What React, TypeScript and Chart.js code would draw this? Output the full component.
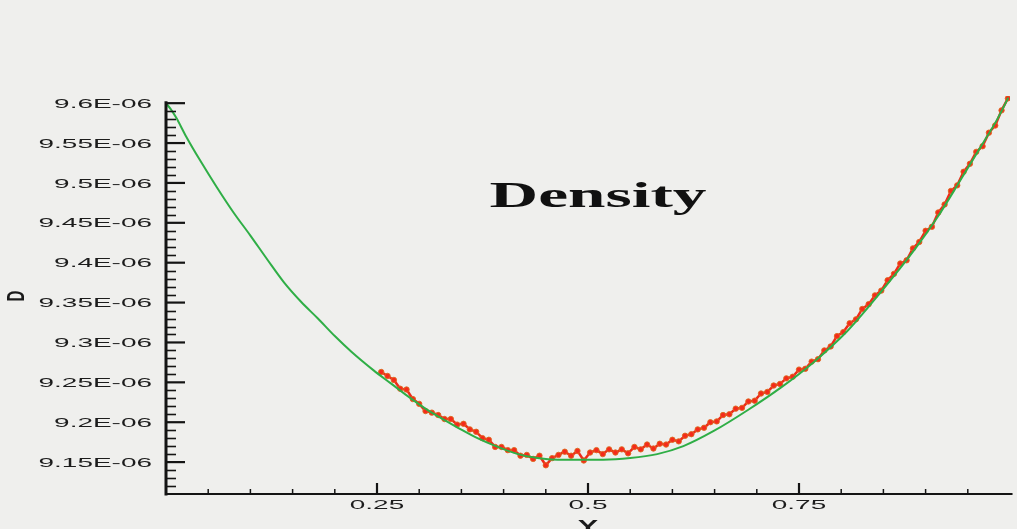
import React, { useEffect, useRef } from "react";
import { Chart, registerables } from "chart.js";

Chart.register(...registerables);

// Green curve (continuum solution), x in [0,1], density in units of 1E-06
const greenX = [0.0, 0.006, 0.012, 0.024, 0.04, 0.06, 0.08, 0.1, 0.12, 0.14, 0.16, 0.18, 0.2, 0.22, 0.246, 0.266, 0.286, 0.306, 0.326, 0.346, 0.369, 0.393, 0.417, 0.44, 0.464, 0.488, 0.518, 0.55, 0.582, 0.613, 0.649, 0.689, 0.728, 0.767, 0.807, 0.846, 0.888, 0.914, 0.941, 0.964, 0.985, 0.998];
const greenY = [9.6, 9.592, 9.582, 9.558, 9.529, 9.495, 9.463, 9.434, 9.404, 9.375, 9.351, 9.33, 9.308, 9.288, 9.265, 9.249, 9.233, 9.218, 9.205, 9.193, 9.18, 9.169, 9.16, 9.155, 9.153, 9.153, 9.153, 9.155, 9.16, 9.17, 9.189, 9.215, 9.243, 9.275, 9.314, 9.362, 9.418, 9.457, 9.503, 9.543, 9.58, 9.607];

// Red noisy series (particle simulation)
const redX = [0.255, 0.2625, 0.27, 0.2775, 0.285, 0.2925, 0.3, 0.3075, 0.315, 0.3225, 0.33, 0.3375, 0.345, 0.3525, 0.36, 0.3675, 0.375, 0.3825, 0.39, 0.3975, 0.405, 0.4125, 0.42, 0.4275, 0.435, 0.4425, 0.45, 0.4575, 0.465, 0.4725, 0.48, 0.4875, 0.495, 0.5025, 0.51, 0.5175, 0.525, 0.5325, 0.54, 0.5475, 0.555, 0.5625, 0.57, 0.5775, 0.585, 0.5925, 0.6, 0.6075, 0.615, 0.6225, 0.63, 0.6375, 0.645, 0.6525, 0.66, 0.6675, 0.675, 0.6825, 0.69, 0.6975, 0.705, 0.7125, 0.72, 0.7275, 0.735, 0.7425, 0.75, 0.7575, 0.765, 0.7725, 0.78, 0.7875, 0.795, 0.8025, 0.81, 0.8175, 0.825, 0.8325, 0.84, 0.8475, 0.855, 0.8625, 0.87, 0.8775, 0.885, 0.8925, 0.9, 0.9075, 0.915, 0.9225, 0.93, 0.9375, 0.945, 0.9525, 0.96, 0.9675, 0.975, 0.9825, 0.99, 0.9975];
const redY = [9.263, 9.258, 9.253, 9.242, 9.241, 9.229, 9.223, 9.214, 9.212, 9.209, 9.204, 9.204, 9.197, 9.198, 9.191, 9.188, 9.18, 9.178, 9.169, 9.169, 9.165, 9.165, 9.158, 9.159, 9.154, 9.158, 9.146, 9.155, 9.159, 9.163, 9.158, 9.164, 9.152, 9.162, 9.165, 9.16, 9.166, 9.162, 9.166, 9.161, 9.169, 9.166, 9.172, 9.167, 9.173, 9.172, 9.178, 9.176, 9.183, 9.185, 9.191, 9.193, 9.2, 9.201, 9.209, 9.21, 9.217, 9.218, 9.226, 9.227, 9.236, 9.238, 9.246, 9.248, 9.255, 9.257, 9.266, 9.267, 9.276, 9.279, 9.29, 9.295, 9.308, 9.313, 9.324, 9.329, 9.342, 9.348, 9.359, 9.365, 9.378, 9.386, 9.399, 9.403, 9.418, 9.426, 9.44, 9.445, 9.463, 9.473, 9.49, 9.497, 9.514, 9.524, 9.539, 9.546, 9.563, 9.572, 9.591, 9.606];

const yTickValues = [9.15, 9.2, 9.25, 9.3, 9.35, 9.4, 9.45, 9.5, 9.55, 9.6];
const yTickLabels = ["9.15E-06", "9.2E-06", "9.25E-06", "9.3E-06", "9.35E-06", "9.4E-06", "9.45E-06", "9.5E-06", "9.55E-06", "9.6E-06"];
const xTickValues = [0.25, 0.5, 0.75];
const xTickLabels = ["0.25", "0.5", "0.75"];

const titleText = "Density";
const xAxisTitle = "Y";
const yAxisTitle = "D";

const X_MIN = 0;
const X_MAX = 1;
const Y_MIN = 9.11;
const Y_MAX = 9.609;

const BG = "#efefed";

function stretchedText(ctx: CanvasRenderingContext2D, text: string, x: number, y: number, sx: number, align: CanvasTextAlign) {
  ctx.save();
  ctx.translate(x, y);
  ctx.scale(sx, 1);
  ctx.textAlign = align;
  ctx.fillText(text, 0, 0);
  ctx.restore();
}

const decorPlugin = {
  id: "decor",
  beforeDraw(chart: any) {
    const ctx = chart.ctx as CanvasRenderingContext2D;
    ctx.save();
    ctx.fillStyle = BG;
    ctx.fillRect(0, 0, chart.width, chart.height);
    ctx.restore();
  },
  afterDraw(chart: any) {
    const ctx = chart.ctx as CanvasRenderingContext2D;
    const xs = chart.scales.x;
    const ys = chart.scales.y;
    const x0 = xs.getPixelForValue(X_MIN);
    const y0 = ys.getPixelForValue(Y_MIN);
    ctx.save();
    ctx.strokeStyle = "#141414";
    ctx.lineCap = "butt";

    // y axis line
    ctx.lineWidth = 3;
    ctx.beginPath();
    ctx.moveTo(x0, ys.getPixelForValue(9.6025));
    ctx.lineTo(x0, y0 + 1.5);
    ctx.stroke();

    // x axis line
    ctx.lineWidth = 2;
    ctx.beginPath();
    ctx.moveTo(x0, y0);
    ctx.lineTo(xs.getPixelForValue(1.003), y0);
    ctx.stroke();

    // y minor ticks
    ctx.lineWidth = 1.6;
    for (let i = 912; i <= 959; i++) {
      if (i % 5 === 0) continue;
      const py = Math.round(ys.getPixelForValue(i / 100)) + 0.5;
      ctx.beginPath();
      ctx.moveTo(x0, py);
      ctx.lineTo(x0 + 10, py);
      ctx.stroke();
    }
    // y major ticks
    ctx.lineWidth = 2.2;
    yTickValues.forEach((v) => {
      const py = ys.getPixelForValue(v);
      ctx.beginPath();
      ctx.moveTo(x0, py);
      ctx.lineTo(x0 + 19, py);
      ctx.stroke();
    });

    // x minor ticks
    ctx.lineWidth = 1.5;
    for (let i = 1; i < 20; i++) {
      if (i % 5 === 0) continue;
      const px = xs.getPixelForValue(i / 20);
      ctx.beginPath();
      ctx.moveTo(px, y0);
      ctx.lineTo(px, y0 - 5);
      ctx.stroke();
    }
    // x major ticks
    ctx.lineWidth = 2.2;
    xTickValues.forEach((v) => {
      const px = xs.getPixelForValue(v);
      ctx.beginPath();
      ctx.moveTo(px, y0);
      ctx.lineTo(px, y0 - 11);
      ctx.stroke();
    });

    // tick labels
    ctx.fillStyle = "#1c1c1c";
    ctx.textBaseline = "middle";
    ctx.font = "13px 'Liberation Sans', Arial, sans-serif";
    yTickValues.forEach((v, i) => {
      stretchedText(ctx, yTickLabels[i], 152, ys.getPixelForValue(v) + 1, 2.15, "right");
    });
    xTickValues.forEach((v, i) => {
      stretchedText(ctx, xTickLabels[i], xs.getPixelForValue(v), 505, 2.15, "center");
    });

    // axis titles
    ctx.fillStyle = "#1a1a1a";
    ctx.font = "bold 17px 'Liberation Sans', Arial, sans-serif";
    ctx.textBaseline = "alphabetic";
    stretchedText(ctx, xAxisTitle, xs.getPixelForValue(0.5), 532, 1.8, "center");

    ctx.save();
    ctx.translate(17, 296);
    ctx.scale(1.6, 1);
    ctx.rotate(-Math.PI / 2);
    ctx.textAlign = "center";
    ctx.textBaseline = "middle";
    ctx.font = "bold 15px 'Liberation Sans', Arial, sans-serif";
    ctx.fillText(yAxisTitle, 0, 0);
    ctx.restore();

    // title
    ctx.fillStyle = "#111111";
    ctx.font = "bold 36px 'Liberation Serif', 'Times New Roman', serif";
    ctx.textBaseline = "alphabetic";
    stretchedText(ctx, titleText, 598, 207, 1.87, "center");

    ctx.restore();
  },
};

export default function App() {
  const canvasRef = useRef<HTMLCanvasElement | null>(null);

  useEffect(() => {
    if (!canvasRef.current) return;
    const greenData = greenX.map((x, i) => ({ x, y: greenY[i] }));
    const redData = redX.map((x, i) => ({ x, y: redY[i] }));
    const chart = new Chart(canvasRef.current, {
      type: "line",
      data: {
        datasets: [
          {
            label: "continuum",
            data: greenData,
            borderColor: "#2fae46",
            borderWidth: 2,
            pointRadius: 0,
            cubicInterpolationMode: "monotone",
            fill: false,
          },
          {
            label: "particles",
            data: redData,
            borderColor: "#ef2a1a",
            borderWidth: 2.5,
            pointRadius: 2.7,
            pointBackgroundColor: "#f52a1c",
            pointBorderColor: "#dc6a1e",
            pointBorderWidth: 0.9,
            tension: 0,
            fill: false,
          },
        ],
      },
      options: {
        animation: false,
        responsive: false,
        maintainAspectRatio: false,
        layout: { padding: { left: 166, right: 7, top: 96, bottom: 35 } },
        plugins: {
          legend: { display: false },
          title: { display: false },
          tooltip: { enabled: false },
        },
        scales: {
          x: { type: "linear", min: X_MIN, max: X_MAX, display: false },
          y: { type: "linear", min: Y_MIN, max: Y_MAX, display: false },
        },
        elements: { line: { borderJoinStyle: "round" } },
      },
      plugins: [decorPlugin],
    });
    return () => chart.destroy();
  }, []);

  return (
    <div style={{ position: "fixed", left: 0, top: 0, width: 1017, height: 529, background: BG }}>
      <canvas ref={canvasRef} width={1017} height={529} style={{ display: "block" }} />
    </div>
  );
}
